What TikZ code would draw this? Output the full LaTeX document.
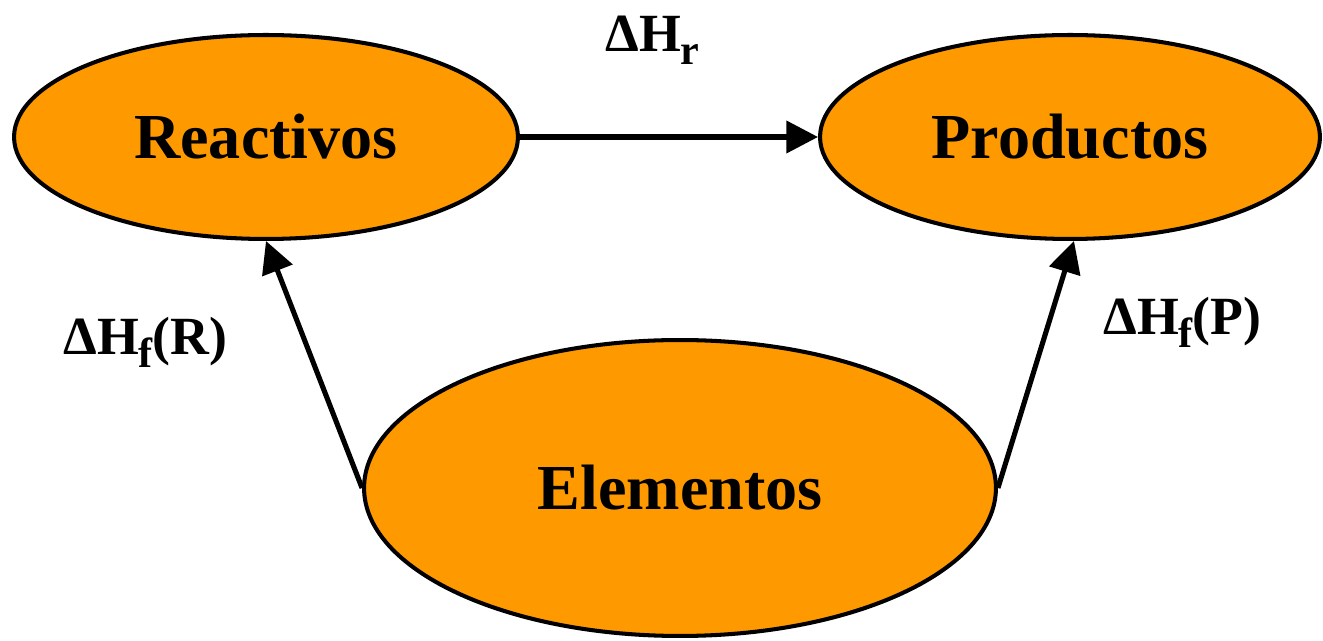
\documentclass[tikz,border=0pt]{standalone}
\usepackage{fontspec}
\setmainfont{Liberation Serif}
\usetikzlibrary{shapes.geometric,arrows.meta}
\definecolor{fillorange}{RGB}{254,153,0}
\newcommand{\subf}[1]{\raisebox{-7pt}{\fontsize{24pt}{24pt}\selectfont #1}}
\begin{document}
\begin{tikzpicture}[x=0.02cm,y=-0.02cm,
  blob/.style={ellipse, draw=black, line width=2.3pt, fill=fillorange, inner sep=0pt,
    font=\bfseries\fontsize{36.5pt}{36.5pt}\selectfont, text height=24.2pt, text depth=0pt},
  lbl/.style={anchor=base west, inner sep=0pt, font=\bfseries\fontsize{30.6pt}{30.6pt}\selectfont},
  conn/.style={line width=2.9pt, -{Triangle[length=18pt,width=18pt]}}]
\useasboundingbox (0,0) rectangle (1323,641);
\node[blob, minimum width=10.08cm, minimum height=4.08cm] (R) at (266,137) {Reactivos};
\node[blob, minimum width=10.0cm, minimum height=4.08cm] (P) at (1070,137) {Productos};
\node[blob, minimum width=12.64cm, minimum height=5.92cm] (E) at (680,488) {Elementos};
\draw[conn] (R.east) -- (P.west);
\draw[conn] (E.west) -- (R.south);
\draw[conn] (E.east) -- ([xshift=4*0.02cm]P.south);
\node[lbl] (Hr) at (605,52) {ΔH\subf{r}};
\node[lbl] (HfR) at (63,355) {ΔH\subf{f}(R)};
\node[lbl] (HfP) at (1103,335) {ΔH\subf{f}(P)};
\end{tikzpicture}
\end{document}
